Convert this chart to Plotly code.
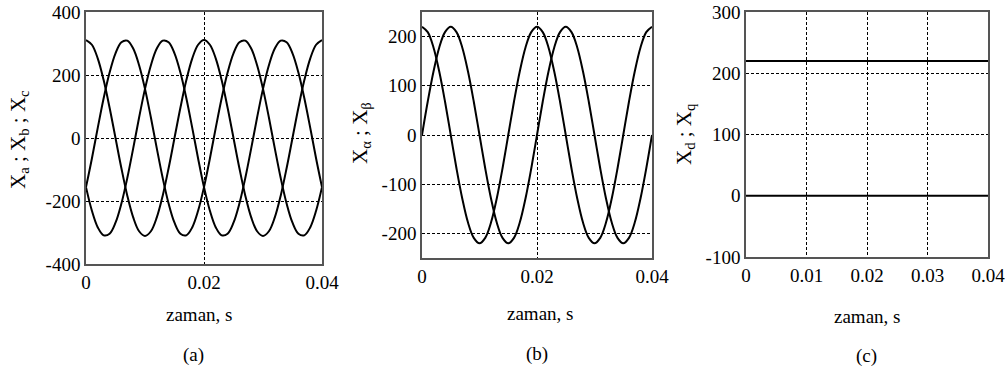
import plotly.graph_objects as go

# Time samples, s
zaman = [0.000, 0.001, 0.002, 0.003, 0.004, 0.005, 0.006, 0.007, 0.008, 0.009,
         0.010, 0.011, 0.012, 0.013, 0.014, 0.015, 0.016, 0.017, 0.018, 0.019,
         0.020, 0.021, 0.022, 0.023, 0.024, 0.025, 0.026, 0.027, 0.028, 0.029,
         0.030, 0.031, 0.032, 0.033, 0.034, 0.035, 0.036, 0.037, 0.038, 0.039,
         0.040]

# (a) three-phase quantities
x_a = [311, 296, 252, 183, 96, 0, -96, -183, -252, -296,
       -311, -296, -252, -183, -96, 0, 96, 183, 252, 296,
       311, 296, 252, 183, 96, 0, -96, -183, -252, -296,
       -311, -296, -252, -183, -96, 0, 96, 183, 252, 296,
       311]
x_b = [-156, -65, 33, 127, 208, 269, 304, 309, 284, 231,
       156, 65, -33, -127, -208, -269, -304, -309, -284, -231,
       -156, -65, 33, 127, 208, 269, 304, 309, 284, 231,
       156, 65, -33, -127, -208, -269, -304, -309, -284, -231,
       -156]
x_c = [-156, -231, -284, -309, -304, -269, -208, -127, -33, 65,
       156, 231, 284, 309, 304, 269, 208, 127, 33, -65,
       -156, -231, -284, -309, -304, -269, -208, -127, -33, 65,
       156, 231, 284, 309, 304, 269, 208, 127, 33, -65,
       -156]

# (b) stationary alpha-beta frame
x_alpha = [220, 209, 178, 129, 68, 0, -68, -129, -178, -209,
           -220, -209, -178, -129, -68, 0, 68, 129, 178, 209,
           220, 209, 178, 129, 68, 0, -68, -129, -178, -209,
           -220, -209, -178, -129, -68, 0, 68, 129, 178, 209,
           220]
x_beta = [0, 68, 129, 178, 209, 220, 209, 178, 129, 68,
          0, -68, -129, -178, -209, -220, -209, -178, -129, -68,
          0, 68, 129, 178, 209, 220, 209, 178, 129, 68,
          0, -68, -129, -178, -209, -220, -209, -178, -129, -68,
          0]

# (c) rotating d-q frame
zaman_dq = [0.0, 0.04]
x_d = [220, 220]
x_q = [0, 0]

# tick values
ticks_a_x = [0, 0.02, 0.04]
ticks_a_y = [-400, -200, 0, 200, 400]
ticks_b_x = [0, 0.02, 0.04]
ticks_b_y = [-200, -100, 0, 100, 200]
ticks_c_x = [0, 0.01, 0.02, 0.03, 0.04]
ticks_c_y = [-100, 0, 100, 200, 300]

FONT = "'Liberation Serif', 'Times New Roman', 'DejaVu Serif', serif"
W, H = 1008, 379

fig = go.Figure()
line = dict(color="black", width=2)

for ys in (x_a, x_b, x_c):
    fig.add_trace(go.Scatter(x=zaman, y=ys, mode="lines", line=dict(line, shape="spline"),
                             xaxis="x", yaxis="y", showlegend=False))
for ys in (x_alpha, x_beta):
    fig.add_trace(go.Scatter(x=zaman, y=ys, mode="lines", line=dict(line, shape="spline"),
                             xaxis="x2", yaxis="y2", showlegend=False))
for ys in (x_d, x_q):
    fig.add_trace(go.Scatter(x=zaman_dq, y=ys, mode="lines", line=line,
                             xaxis="x3", yaxis="y3", showlegend=False))


def px_x(p):
    return p / W


def px_y(p):
    return 1 - p / H


def axis(domain, rng, tickvals, fmt, anchor):
    return dict(
        domain=domain, range=rng, tickvals=tickvals,
        ticktext=[fmt(v) for v in tickvals],
        showline=True, mirror=True, linecolor="#555555", linewidth=1.5,
        showgrid=True, gridcolor="black", gridwidth=1, griddash="3px,2px",
        zeroline=False, ticks="", anchor=anchor, automargin=False,
        tickfont=dict(family=FONT, size=19, color="black"),
        fixedrange=True,
    )


def fmt_x(v):
    return "0" if v == 0 else f"{v:g}"


def fmt_y(v):
    return f"{v:g}"


fig.update_layout(
    width=W, height=H,
    margin=dict(l=0, r=0, t=0, b=0),
    paper_bgcolor="white", plot_bgcolor="white",
    font=dict(family=FONT, size=19, color="black"),
    xaxis=axis([px_x(86), px_x(322)], [0, 0.04], ticks_a_x, fmt_x, "y"),
    yaxis=axis([px_y(264), px_y(12)], [-400, 400], ticks_a_y, fmt_y, "x"),
    xaxis2=axis([px_x(422), px_x(652)], [0, 0.04], ticks_b_x, fmt_x, "y2"),
    yaxis2=axis([px_y(258), px_y(12)], [-250, 250], ticks_b_y, fmt_y, "x2"),
    xaxis3=axis([px_x(746), px_x(988)], [0, 0.04], ticks_c_x, fmt_x, "y3"),
    yaxis3=axis([px_y(257), px_y(12)], [-100, 300], ticks_c_y, fmt_y, "x3"),
)

texts = [
    # x-axis titles and captions
    ("zaman, s", 199, 314, 0, 19),
    ("(a)", 193, 355, 0, 19),
    ("zaman, s", 540, 313, 0, 19),
    ("(b)", 537, 354, 0, 19),
    ("zaman, s", 867, 316, 0, 19),
    ("(c)", 866, 356, 0, 19),
    # y-axis titles
    ("X<sub>a</sub> ; X<sub>b</sub> ; X<sub>c</sub>", 19, 140, -90, 21),
    ("X<sub>α</sub> ; X<sub>β</sub>", 361, 133, -90, 21),
    ("X<sub>d</sub> ; X<sub>q</sub>", 685, 134, -90, 21),
]
for txt, x, y, ang, size in texts:
    fig.add_annotation(text=txt, x=px_x(x), y=px_y(y), xref="paper", yref="paper",
                       xanchor="center", yanchor="middle", showarrow=False,
                       textangle=ang, font=dict(family=FONT, size=size, color="black"))

fig.write_html("out.html")
